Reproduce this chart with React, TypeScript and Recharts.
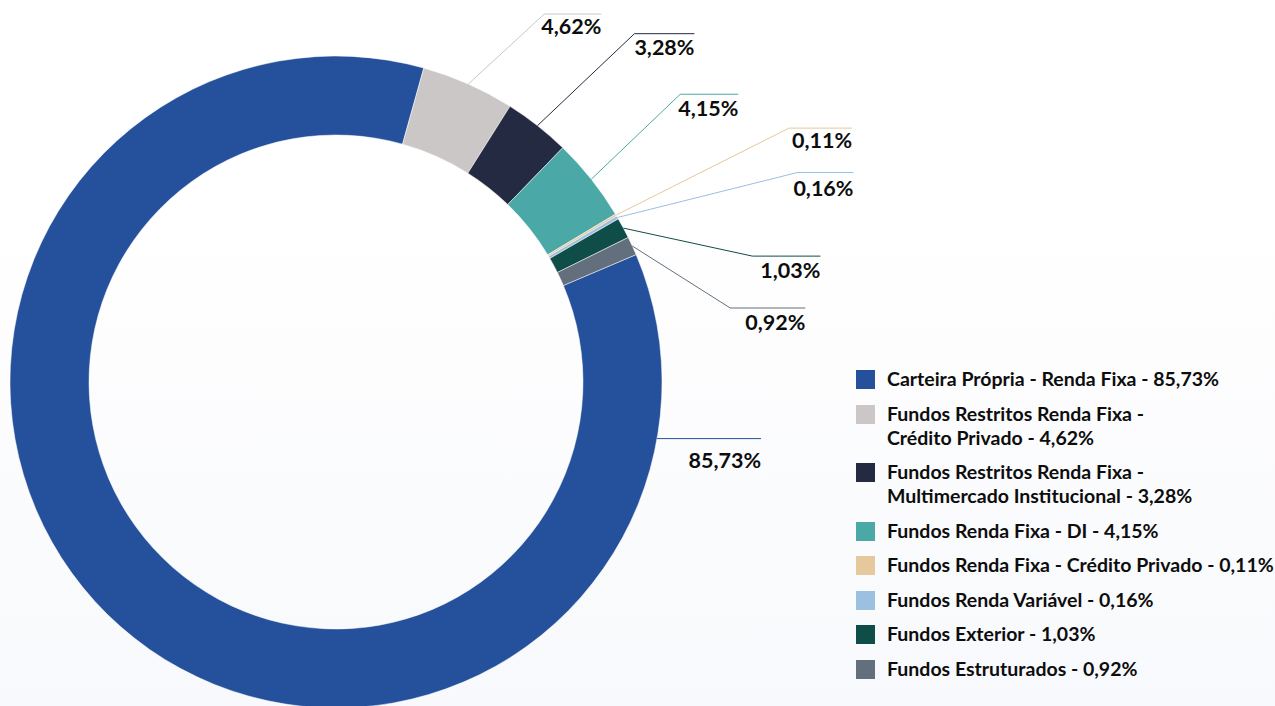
import React from "react";
import { PieChart, Pie, Legend } from "recharts";

const categories = [
  "Carteira Própria - Renda Fixa",
  "Fundos Restritos Renda Fixa - Crédito Privado",
  "Fundos Restritos Renda Fixa - Multimercado Institucional",
  "Fundos Renda Fixa - DI",
  "Fundos Renda Fixa - Crédito Privado",
  "Fundos Renda Variável",
  "Fundos Exterior",
  "Fundos Estruturados",
];
const shares = [85.73, 4.62, 3.28, 4.15, 0.11, 0.16, 1.03, 0.92];
const colors = [
  "#24509c",
  "#cac7c6",
  "#252a43",
  "#4aa8a6",
  "#e6c89d",
  "#9cc0df",
  "#0f4d49",
  "#636f7c",
];

// leader line layout: elbow offset from the slice edge, horizontal run, text drop
const labelLayout = [
  { angle: -10, dx: 0, dy: 0, run: 104, drop: 29 },
  { dx: 76, dy: -70, run: 57, drop: 20 },
  { dx: 97, dy: -92, run: 60, drop: 21 },
  { dx: 89, dy: -85, run: 58, drop: 22 },
  { dx: 173, dy: -87, run: 63, drop: 20 },
  { dx: 180, dy: -45, run: 56, drop: 24 },
  { dx: 129, dy: 28, run: 68, drop: 22 },
  { dx: 98, dy: 62, run: 75, drop: 22 },
];

const FONT = "Lato, 'Open Sans', sans-serif";
const RADIAN = Math.PI / 180;
const fmt = (v: number) => v.toFixed(2).replace(".", ",") + "%";

const data = categories.map((name, i) => ({
  name,
  value: shares[i],
  fill: colors[i],
}));

const renderLabel = (props: any) => {
  const { cx, cy, midAngle, outerRadius, index } = props;
  const lay: any = labelLayout[index];
  const ang = lay.angle ?? midAngle;
  const sx = cx + outerRadius * Math.cos(-ang * RADIAN);
  const sy = cy + outerRadius * Math.sin(-ang * RADIAN);
  const ex = sx + lay.dx;
  const ey = sy + lay.dy;
  const endX = ex + lay.run;
  return (
    <g key={`lbl-${index}`}>
      <polyline
        points={`${sx},${sy} ${ex},${ey} ${endX},${ey}`}
        fill="none"
        stroke={colors[index]}
        strokeWidth={1}
      />
      <text
        x={endX}
        y={ey + lay.drop}
        textAnchor="end"
        fontFamily={FONT}
        fontWeight={700}
        fontSize={21.5}
        fill="#0d0d0d"
      >
        {fmt(shares[index])}
      </text>
    </g>
  );
};

const legendLines = (name: string, value: number) => {
  const full = `${name} - ${fmt(value)}`;
  if (full.length <= 45) return [full];
  const cut = full.indexOf(" - ");
  return [full.slice(0, cut + 2), full.slice(cut + 3)];
};

const renderLegend = (props: any) => {
  const payload = [...(props.payload || [])].sort(
    (a: any, b: any) => categories.indexOf(a.value) - categories.indexOf(b.value)
  );
  return (
    <div style={{ fontFamily: FONT, fontWeight: 700, fontSize: 19.5, color: "#0d0d0d" }}>
      {payload.map((entry: any) => {
        const i = categories.indexOf(entry.value);
        const lines = legendLines(categories[i], shares[i]);
        return (
          <div
            key={`leg-${i}`}
            style={{ display: "flex", alignItems: "flex-start", marginBottom: 10.5 }}
          >
            <div
              style={{
                width: 19,
                height: 19,
                marginTop: 3,
                marginRight: 12,
                background: colors[i],
                flexShrink: 0,
              }}
            />
            <div style={{ lineHeight: "24px", whiteSpace: "nowrap" }}>
              {lines.map((l, k) => (
                <div key={k}>{l}</div>
              ))}
            </div>
          </div>
        );
      })}
    </div>
  );
};

export default function App() {
  return (
    <div
      style={{
        position: "absolute",
        left: 0,
        top: 0,
        width: 1275,
        height: 706,
        overflow: "hidden",
        background: "linear-gradient(to bottom, #ffffff 0%, #ffffff 30%, #f8f9fc 100%)",
      }}
    >
      <PieChart width={1275} height={706} margin={{ top: 0, right: 0, bottom: 0, left: 0 }}>
        <Pie
          data={data}
          dataKey="value"
          nameKey="name"
          cx={336}
          cy={382}
          innerRadius={247}
          outerRadius={326}
          startAngle={23}
          endAngle={-337}
          stroke="#ffffff"
          strokeWidth={0.5}
          label={renderLabel}
          labelLine={false}
          isAnimationActive={false}
        />
        <Legend
          layout="vertical"
          align="right"
          verticalAlign="middle"
          content={renderLegend}
          wrapperStyle={{ position: "absolute", left: 856, top: 367, width: 419, right: "auto", bottom: "auto" }}
        />
      </PieChart>
    </div>
  );
}
